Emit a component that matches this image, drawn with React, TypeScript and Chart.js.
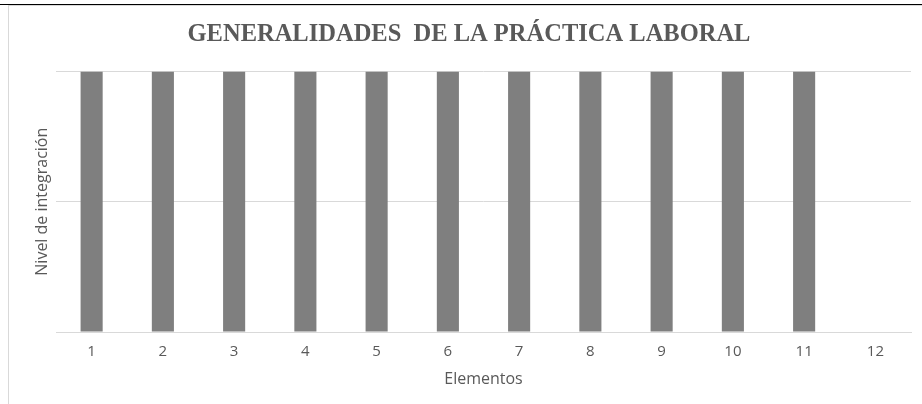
import React, { useEffect, useRef } from "react";
import { Chart, registerables } from "chart.js";

Chart.register(...registerables);

// Elements 1–12 and their integration level (element 12 has no bar)
const elementLabels: string[] = ["1", "2", "3", "4", "5", "6", "7", "8", "9", "10", "11", "12"];
const integrationLevels: (number | null)[] = [2, 2, 2, 2, 2, 2, 2, 2, 2, 2, 2, null];
const levelScale = { min: 0, max: 2, step: 1 };

const chartTitle = "GENERALIDADES  DE LA PRÁCTICA LABORAL";
const xAxisTitle = "Elementos";
const yAxisTitle = "Nivel de integración";

const TEXT_GREY = "#595959";
const GRID_GREY = "#d9d9d9";
const BAR_GREY = "#7f7f7f";
const SANS = "'Open Sans', 'Noto Sans', sans-serif";

export default function App() {
  const canvasRef = useRef<HTMLCanvasElement | null>(null);

  useEffect(() => {
    if (!canvasRef.current) return;
    const chart = new Chart(canvasRef.current, {
      type: "bar",
      data: {
        labels: elementLabels,
        datasets: [
          {
            label: yAxisTitle,
            data: integrationLevels,
            backgroundColor: BAR_GREY,
            borderWidth: 0,
            categoryPercentage: 0.31,
            barPercentage: 1,
          },
        ],
      },
      options: {
        animation: false,
        responsive: false,
        maintainAspectRatio: false,
        layout: { padding: { left: 27, right: 11, top: 0, bottom: 0 } },
        plugins: {
          legend: { display: false },
          tooltip: { enabled: false },
          title: {
            display: true,
            text: chartTitle,
            color: TEXT_GREY,
            font: { family: "'Liberation Serif', 'Times New Roman', serif", size: 24.5, weight: "bold" },
            padding: { top: 20, bottom: 22 },
          },
        },
        scales: {
          x: {
            grid: { display: false, drawTicks: false },
            border: { display: true, color: GRID_GREY, width: 1 },
            ticks: { color: TEXT_GREY, font: { family: SANS, size: 15 }, padding: 11, maxRotation: 0 },
            title: {
              display: true,
              text: xAxisTitle,
              color: TEXT_GREY,
              font: { family: SANS, size: 16 },
              padding: { top: 0, bottom: 15 },
            },
            afterFit: (scale: any) => {
              scale.height = 72;
            },
          },
          y: {
            min: levelScale.min,
            max: levelScale.max,
            ticks: { display: false, stepSize: levelScale.step },
            grid: { color: GRID_GREY, lineWidth: 1, drawTicks: false },
            border: { display: false },
            title: {
              display: true,
              text: yAxisTitle,
              color: TEXT_GREY,
              font: { family: SANS, size: 16 },
              padding: { top: 6, bottom: 0 },
            },
            afterFit: (scale: any) => {
              scale.width = 29;
            },
          },
        },
      },
    });
    return () => chart.destroy();
  }, []);

  return (
    <div style={{ position: "absolute", left: 0, top: 0, width: 922, height: 404, background: "#fff", overflow: "hidden" }}>
      <canvas ref={canvasRef} width={922} height={404} style={{ display: "block", width: 922, height: 404 }} />
      <div style={{ position: "absolute", left: 0, top: 4, width: 922, height: 1, background: "#000" }} />
      <div style={{ position: "absolute", left: 8, top: 5, width: 914, height: 1, background: GRID_GREY }} />
      <div style={{ position: "absolute", left: 8, top: 5, width: 1, height: 399, background: GRID_GREY }} />
    </div>
  );
}
